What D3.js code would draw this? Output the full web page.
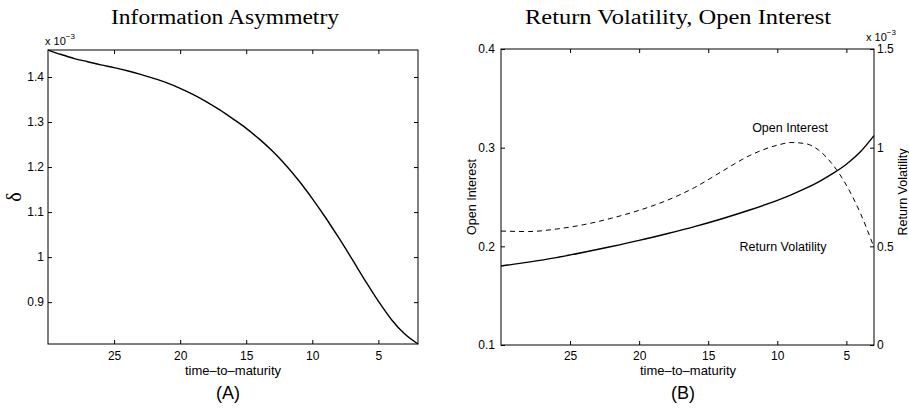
<!DOCTYPE html>
<html>
<head>
<meta charset="utf-8">
<script src="https://cdn.jsdelivr.net/npm/d3@7"></script>
<style>
  body { margin: 0; background: #fff; }
  .tick text { font-family: "Liberation Sans", Arial, sans-serif; font-size: 12px; fill: #000; }
  .domain { display: none; }
  .tick line { stroke: #000; stroke-width: 1; }
</style>
</head>
<body>
<script>
"use strict";

/*
  Data
*/
// panel A: information asymmetry (delta, x 10^-3) against time-to-maturity
var timeA = [30, 29, 28, 27, 26, 25, 24, 23, 22, 21, 20, 19, 18, 17, 16, 15,
             14, 13, 12, 11, 10, 9, 8, 7, 6, 5, 4, 3, 2];
var delta = [1.460, 1.450, 1.441, 1.434, 1.427, 1.421, 1.414, 1.406, 1.397, 1.387,
             1.375, 1.361, 1.345, 1.327, 1.307, 1.286, 1.262, 1.235, 1.204, 1.169,
             1.130, 1.088, 1.043, 0.996, 0.948, 0.902, 0.861, 0.829, 0.807];

// panel B: open interest (left axis) and return volatility (right axis, x 10^-3)
var timeB = [30, 28, 26, 24, 22, 20, 18, 16, 14, 12, 10, 9, 8, 7, 6, 5, 4, 3];
var openInterest = [0.2155, 0.2150, 0.2175, 0.2220, 0.2285, 0.2365, 0.2465, 0.2595, 0.2760,
                    0.2920, 0.3025, 0.3052, 0.3042, 0.2975, 0.2830, 0.2620, 0.2340, 0.1990];
var returnVol = [0.400, 0.420, 0.443, 0.470, 0.499, 0.530, 0.564, 0.600, 0.640,
                 0.684, 0.733, 0.761, 0.792, 0.827, 0.868, 0.916, 0.978, 1.061];

var timeTicks = [25, 20, 15, 10, 5];
var deltaTicks = [0.9, 1, 1.1, 1.2, 1.3, 1.4];
var oiTicks = [0.1, 0.2, 0.3, 0.4];
var rvTicks = [0, 0.5, 1, 1.5];

var W = 909, H = 413;
var svg = d3.select("body").append("svg")
    .attr("width", W)
    .attr("height", H);

var sans = "Liberation Sans, Arial, sans-serif";
var serif = "Liberation Serif, Times New Roman, serif";

function box(g, x0, x1, y0, y1) {
  g.append("rect")
    .attr("x", x0).attr("y", y0)
    .attr("width", x1 - x0).attr("height", y1 - y0)
    .attr("fill", "none").attr("stroke", "#000").attr("stroke-width", 1);
}

function fmt(d) { return d3.format("~g")(d); }

function timesTen(g, x, y) {
  var t = g.append("text")
    .attr("x", x).attr("y", y)
    .style("font-family", sans).style("font-size", "11px");
  t.append("tspan").text("x 10");
  t.append("tspan").attr("dy", -6).style("font-size", "8px").text("\u22123");
}

function label(g, x, y, txt, size) {
  return g.append("text")
    .attr("x", x).attr("y", y).attr("text-anchor", "middle")
    .style("font-family", sans).style("font-size", size || "12.5px")
    .text(txt);
}

function title(g, x, txt, len) {
  g.append("text")
    .attr("x", x - len / 2).attr("y", 24)
    .attr("textLength", len).attr("lengthAdjust", "spacingAndGlyphs")
    .style("font-family", serif).style("font-size", "20px")
    .text(txt);
}

/*
  Panel A
*/
var xA = d3.scaleLinear().domain([30, 2]).range([48, 418]);
var yA = d3.scaleLinear().domain(d3.extent(delta)).range([344, 50]);
var gA = svg.append("g");

gA.append("g").attr("transform", "translate(0,344)")
  .call(d3.axisBottom(xA).tickValues(timeTicks).tickSize(-4).tickPadding(7).tickFormat(fmt));
gA.append("g").attr("transform", "translate(0,50)")
  .call(d3.axisTop(xA).tickValues(timeTicks).tickSize(-4).tickFormat(""));
gA.append("g").attr("transform", "translate(48,0)")
  .call(d3.axisLeft(yA).tickValues(deltaTicks).tickSize(-4).tickPadding(4).tickFormat(fmt));
gA.append("g").attr("transform", "translate(418,0)")
  .call(d3.axisRight(yA).tickValues(deltaTicks).tickSize(-4).tickFormat(""));
box(gA, 48, 418, 50, 344);

gA.append("path")
  .datum(timeA.map(function (t, i) { return [t, delta[i]]; }))
  .attr("fill", "none").attr("stroke", "#000").attr("stroke-width", 1.4)
  .attr("d", d3.line().x(function (d) { return xA(d[0]); })
                      .y(function (d) { return yA(d[1]); })
                      .curve(d3.curveMonotoneX));

timesTen(gA, 45, 45);

gA.append("text")
  .attr("transform", "translate(21,197) rotate(-90)")
  .attr("text-anchor", "middle")
  .style("font-family", serif).style("font-size", "20px")
  .text("\u03b4");

label(gA, 233, 375, "time\u2013to\u2013maturity", "13px");
title(gA, 225, "Information Asymmetry", 228);
label(gA, 228, 399, "(A)", "18px");

/*
  Panel B
*/
var xB = d3.scaleLinear().domain([30, 3]).range([501, 874]);
var yOI = d3.scaleLinear().domain([0.1, 0.4]).range([345, 49]);
var yRV = d3.scaleLinear().domain([0, 1.5]).range([345, 49]);
var gB = svg.append("g");

gB.append("g").attr("transform", "translate(0,345)")
  .call(d3.axisBottom(xB).tickValues(timeTicks).tickSize(-4).tickPadding(6).tickFormat(fmt));
gB.append("g").attr("transform", "translate(0,49)")
  .call(d3.axisTop(xB).tickValues(timeTicks).tickSize(-4).tickFormat(""));
gB.append("g").attr("transform", "translate(501,0)")
  .call(d3.axisLeft(yOI).tickValues(oiTicks).tickSize(-4).tickPadding(6).tickFormat(fmt));
gB.append("g").attr("transform", "translate(874,0)")
  .call(d3.axisRight(yRV).tickValues(rvTicks).tickSize(-4).tickPadding(3).tickFormat(fmt));
box(gB, 501, 874, 49, 345);

gB.append("path")
  .datum(timeB.map(function (t, i) { return [t, openInterest[i]]; }))
  .attr("fill", "none").attr("stroke", "#000").attr("stroke-width", 1)
  .attr("stroke-dasharray", "5,4")
  .attr("d", d3.line().x(function (d) { return xB(d[0]); })
                      .y(function (d) { return yOI(d[1]); })
                      .curve(d3.curveMonotoneX));

gB.append("path")
  .datum(timeB.map(function (t, i) { return [t, returnVol[i]]; }))
  .attr("fill", "none").attr("stroke", "#000").attr("stroke-width", 1.4)
  .attr("d", d3.line().x(function (d) { return xB(d[0]); })
                      .y(function (d) { return yRV(d[1]); })
                      .curve(d3.curveMonotoneX));

label(gB, 790, 132, "Open Interest");
label(gB, 783, 251, "Return Volatility");

timesTen(gB, 866, 41);

gB.append("text")
  .attr("transform", "translate(476,197) rotate(-90)")
  .attr("text-anchor", "middle")
  .style("font-family", sans).style("font-size", "12.5px")
  .text("Open Interest");

gB.append("text")
  .attr("transform", "translate(907,192) rotate(-90)")
  .attr("text-anchor", "middle")
  .style("font-family", sans).style("font-size", "12.5px")
  .text("Return Volatility");

label(gB, 688, 375, "time\u2013to\u2013maturity", "13px");
title(gB, 678, "Return Volatility, Open Interest", 306);
label(gB, 683, 399, "(B)", "18px");
</script>
</body>
</html>
